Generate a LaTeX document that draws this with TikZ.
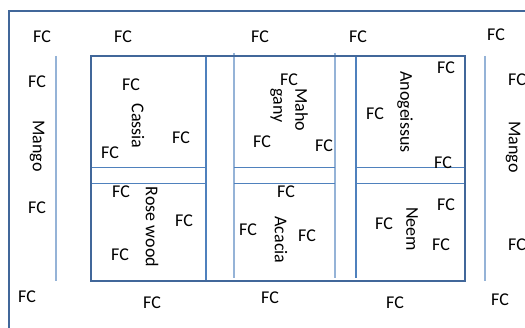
\documentclass[tikz,border=0pt]{standalone}
\usepackage{fontspec}
\setmainfont{Carlito}
\usetikzlibrary{positioning}
\definecolor{plot}{HTML}{41679A}
\definecolor{path}{HTML}{4F81BD}
\definecolor{edge}{HTML}{95B3D7}

\begin{document}
\begin{tikzpicture}[x=1pt,y=-1pt,every node/.style={font=\fontsize{18}{22}\selectfont,inner sep=0pt},
    tree/.style={rotate=-90,align=left}]
    \useasboundingbox (0,0) rectangle (525,328);
    \clip (0,0) rectangle (525,328);
    \draw[plot,line width=1.8pt] (9,340) -- (9,11) -- (540,11);
    \draw[edge,line width=1.3pt] (56,56) -- (56,281);
    \draw[edge,line width=1.3pt] (485,56) -- (485,281);
    \draw[path,line width=1.1pt] (206,56) -- (206,281);
    \draw[edge,line width=1.3pt] (234,53) -- (234,278);
    \draw[edge,line width=1.3pt] (335,53) -- (335,278);
    \draw[path,line width=1.1pt] (356,56) -- (356,278);
    \draw[path,line width=1.1pt] (91,167.5) -- (206,167.5) (91,183.3) -- (206,183.3);
    \draw[path,line width=1.1pt] (234,167.5) -- (335,167.5) (234,183.3) -- (335,183.3);
    \draw[path,line width=1.1pt] (357,167.5) -- (465,167.5) (357,183.3) -- (465,183.3);
    \draw[plot,line width=2.2pt] (91,56) rectangle (465,281);
    % border
    \node (t1) at (42,37) {FC};
    \node (t2) at (123,37) {FC};
    \node (t3) at (260,37) {FC};
    \node (t4) at (358,37) {FC};
    \node (t5) at (496,35) {FC};
    \node (l1) at (37,82) {FC};
    \node[tree] (mangoL) at (37,146) {Mango};
    \node (l2) at (37,208) {FC};
    \node (r1) at (517,80) {FC};
    \node[tree] (mangoR) at (513,147) {Mango};
    \node (r2) at (517,245) {FC};
    \node (b1) at (27,297) {FC};
    \node (b2) at (152,303) {FC};
    \node (b3) at (270,298) {FC};
    \node (b4) at (395,303) {FC};
    \node (b5) at (500,300) {FC};
    % plots
    \node (c1) at (131,85) {FC};
    \node[tree] (cassia) at (138,126) {Cassia};
    \node (c2) at (181,138) {FC};
    \node (c3) at (110,153) {FC};
    \node (w1) at (121,192) {FC};
    \node[tree] (rosewood) at (152,227) {Rose wood};
    \node (w2) at (184,221) {FC};
    \node (w3) at (120,255) {FC};
    \node (m1) at (289,80) {FC};
    \node[tree] (mahogany) at (289,110) {Maho\\gany};
    \node (m2) at (262,142) {FC};
    \node (m3) at (324,146) {FC};
    \node (a1) at (286,192) {FC};
    \node[tree] (acacia) at (281,240) {Acacia};
    \node (a2) at (307,236) {FC};
    \node (a3) at (248,230) {FC};
    \node[tree] (anogeissus) at (405,112) {Anogeissus};
    \node (g1) at (446,68) {FC};
    \node (g2) at (375,114) {FC};
    \node (g3) at (443,163) {FC};
    \node[tree] (neem) at (412,229) {Neem};
    \node (n1) at (384,224) {FC};
    \node (n2) at (446,205) {FC};
    \node (n3) at (441,245) {FC};
\end{tikzpicture}
\end{document}
